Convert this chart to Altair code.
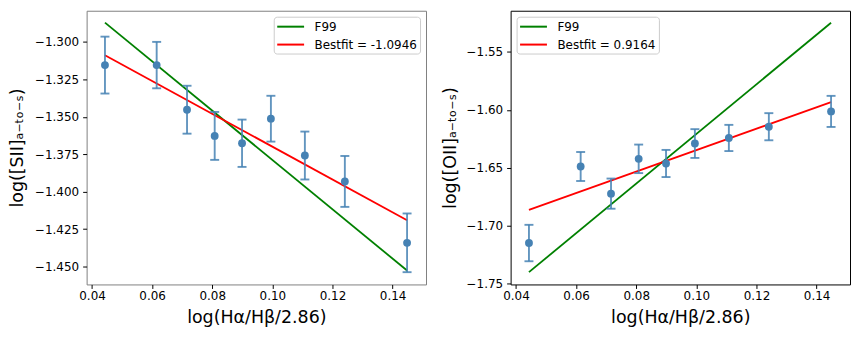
import altair as alt
import pandas as pd

# ---- data ----
x_vals = [0.0443, 0.0615, 0.0716, 0.0808, 0.0899, 0.0995, 0.1108, 0.1241, 0.1448]

sii_y = [-1.3155, -1.3155, -1.3453, -1.3628, -1.3677, -1.3513, -1.3759, -1.3932, -1.4342]
sii_err = [0.0190, 0.0155, 0.0160, 0.0160, 0.0158, 0.0153, 0.0160, 0.0170, 0.0196]

oii_y = [-1.7149, -1.6489, -1.6723, -1.6423, -1.6463, -1.6291, -1.6243, -1.6146, -1.6014]
oii_err = [0.0157, 0.0125, 0.0130, 0.0123, 0.0117, 0.0124, 0.0113, 0.0117, 0.0134]

line_x = [0.0443, 0.1448]
sii_f99 = [-1.2871, -1.4527]
sii_fit = [-1.3089, -1.4191]
oii_f99 = [-1.7400, -1.5249]
oii_fit = [-1.6863, -1.5934]

sii_fit_label = "Bestfit = -1.0946"
oii_fit_label = "Bestfit = 0.9164"

x_ticks = [0.04, 0.06, 0.08, 0.10, 0.12, 0.14]
sii_ticks = [-1.300, -1.325, -1.350, -1.375, -1.400, -1.425, -1.450]
oii_ticks = [-1.55, -1.60, -1.65, -1.70, -1.75]

FONT = "DejaVu Sans"
XDOM = [0.0382, 0.1511]
BLUE = "#4682b4"


def panel(y_vals, y_err, f99_y, fit_y, fit_label, ydom, yticks, yfmt, ytitle,
          legend_orient, frame, ytp):
    pts = pd.DataFrame({
        "x": x_vals,
        "y": y_vals,
        "lo": [v - e for v, e in zip(y_vals, y_err)],
        "hi": [v + e for v, e in zip(y_vals, y_err)],
    })
    lines = pd.DataFrame({
        "x": line_x + line_x,
        "y": f99_y + fit_y,
        "series": ["F99", "F99", fit_label, fit_label],
    })
    xs = alt.Scale(domain=XDOM, nice=False, zero=False)
    ys = alt.Scale(domain=ydom, nice=False, zero=False)
    xaxis = alt.Axis(values=x_ticks, format=".2f", title="log(Hα/Hβ/2.86)",
                     grid=False, domain=False, tickSize=4, tickColor="black",
                     labelFontSize=12, labelColor="black", labelFont=FONT,
                     labelPadding=2, titleFontSize=17.5, titleFontWeight="normal",
                     titleColor="black", titleFont=FONT, titlePadding=7)
    yaxis = alt.Axis(values=yticks, format=yfmt, title=ytitle,
                     grid=False, domain=False, tickSize=4, tickColor="black",
                     labelFontSize=12, labelColor="black", labelFont=FONT,
                     labelPadding=4, titleFontSize=17.5, titleFontWeight="normal",
                     titleColor="black", titleFont=FONT, titlePadding=ytp)
    X = alt.X("x:Q", scale=xs, axis=xaxis)

    legend = alt.Legend(orient=legend_orient, offset=6, title=None,
                        symbolType="M-2.25,0H2.25", symbolSize=144,
                        symbolStrokeWidth=2, symbolOffset=7,
                        labelFontSize=12, labelFont=FONT, labelColor="black",
                        labelOffset=17, fillColor="rgba(255,255,255,0.8)",
                        strokeColor="#cccccc", cornerRadius=3, padding=3,
                        rowPadding=5)
    line = alt.Chart(lines).mark_line(strokeWidth=1.8).encode(
        x=X,
        y=alt.Y("y:Q", scale=ys, axis=yaxis),
        color=alt.Color("series:N",
                        scale=alt.Scale(domain=["F99", fit_label],
                                        range=["#008000", "#ff0000"]),
                        legend=legend),
    )
    base = alt.Chart(pts)
    rule = base.mark_rule(color=BLUE, strokeWidth=1.9, opacity=0.85).encode(
        x=X, y=alt.Y("lo:Q", scale=ys, axis=yaxis), y2="hi:Q")
    cap_lo = base.mark_tick(orient="horizontal", size=9, thickness=1.9,
                            color=BLUE, opacity=0.85).encode(
        x=X, y=alt.Y("lo:Q", scale=ys, axis=yaxis))
    cap_hi = base.mark_tick(orient="horizontal", size=9, thickness=1.9,
                            color=BLUE, opacity=0.85).encode(
        x=X, y=alt.Y("hi:Q", scale=ys, axis=yaxis))
    pt = base.mark_circle(size=62, color=BLUE, opacity=1).encode(
        x=X, y=alt.Y("y:Q", scale=ys, axis=yaxis))
    return alt.layer(line, rule, cap_lo, cap_hi, pt).properties(
        width=341, height=275,
        view=alt.ViewBackground(stroke=frame, strokeWidth=1))


left = panel(sii_y, sii_err, sii_f99, sii_fit, sii_fit_label,
             [-1.4620, -1.2792], sii_ticks, ".3f", "log([SII]ₐ₋ₜₒ₋ₛ)",
             "top-right", "#808080", 8)
right = panel(oii_y, oii_err, oii_f99, oii_fit, oii_fit_label,
              [-1.7506, -1.5146], oii_ticks, ".2f", "log([OII]ₐ₋ₜₒ₋ₛ)",
              "top-left", "#000000", 7)

chart = alt.hconcat(left, right, spacing=13).resolve_scale(
    color="independent", x="independent", y="independent"
).properties(
    padding={"left": 0, "top": 1, "right": 0, "bottom": 0}
).configure(font=FONT)

chart.save("out.html", embed_options={"renderer": "svg", "actions": False})
